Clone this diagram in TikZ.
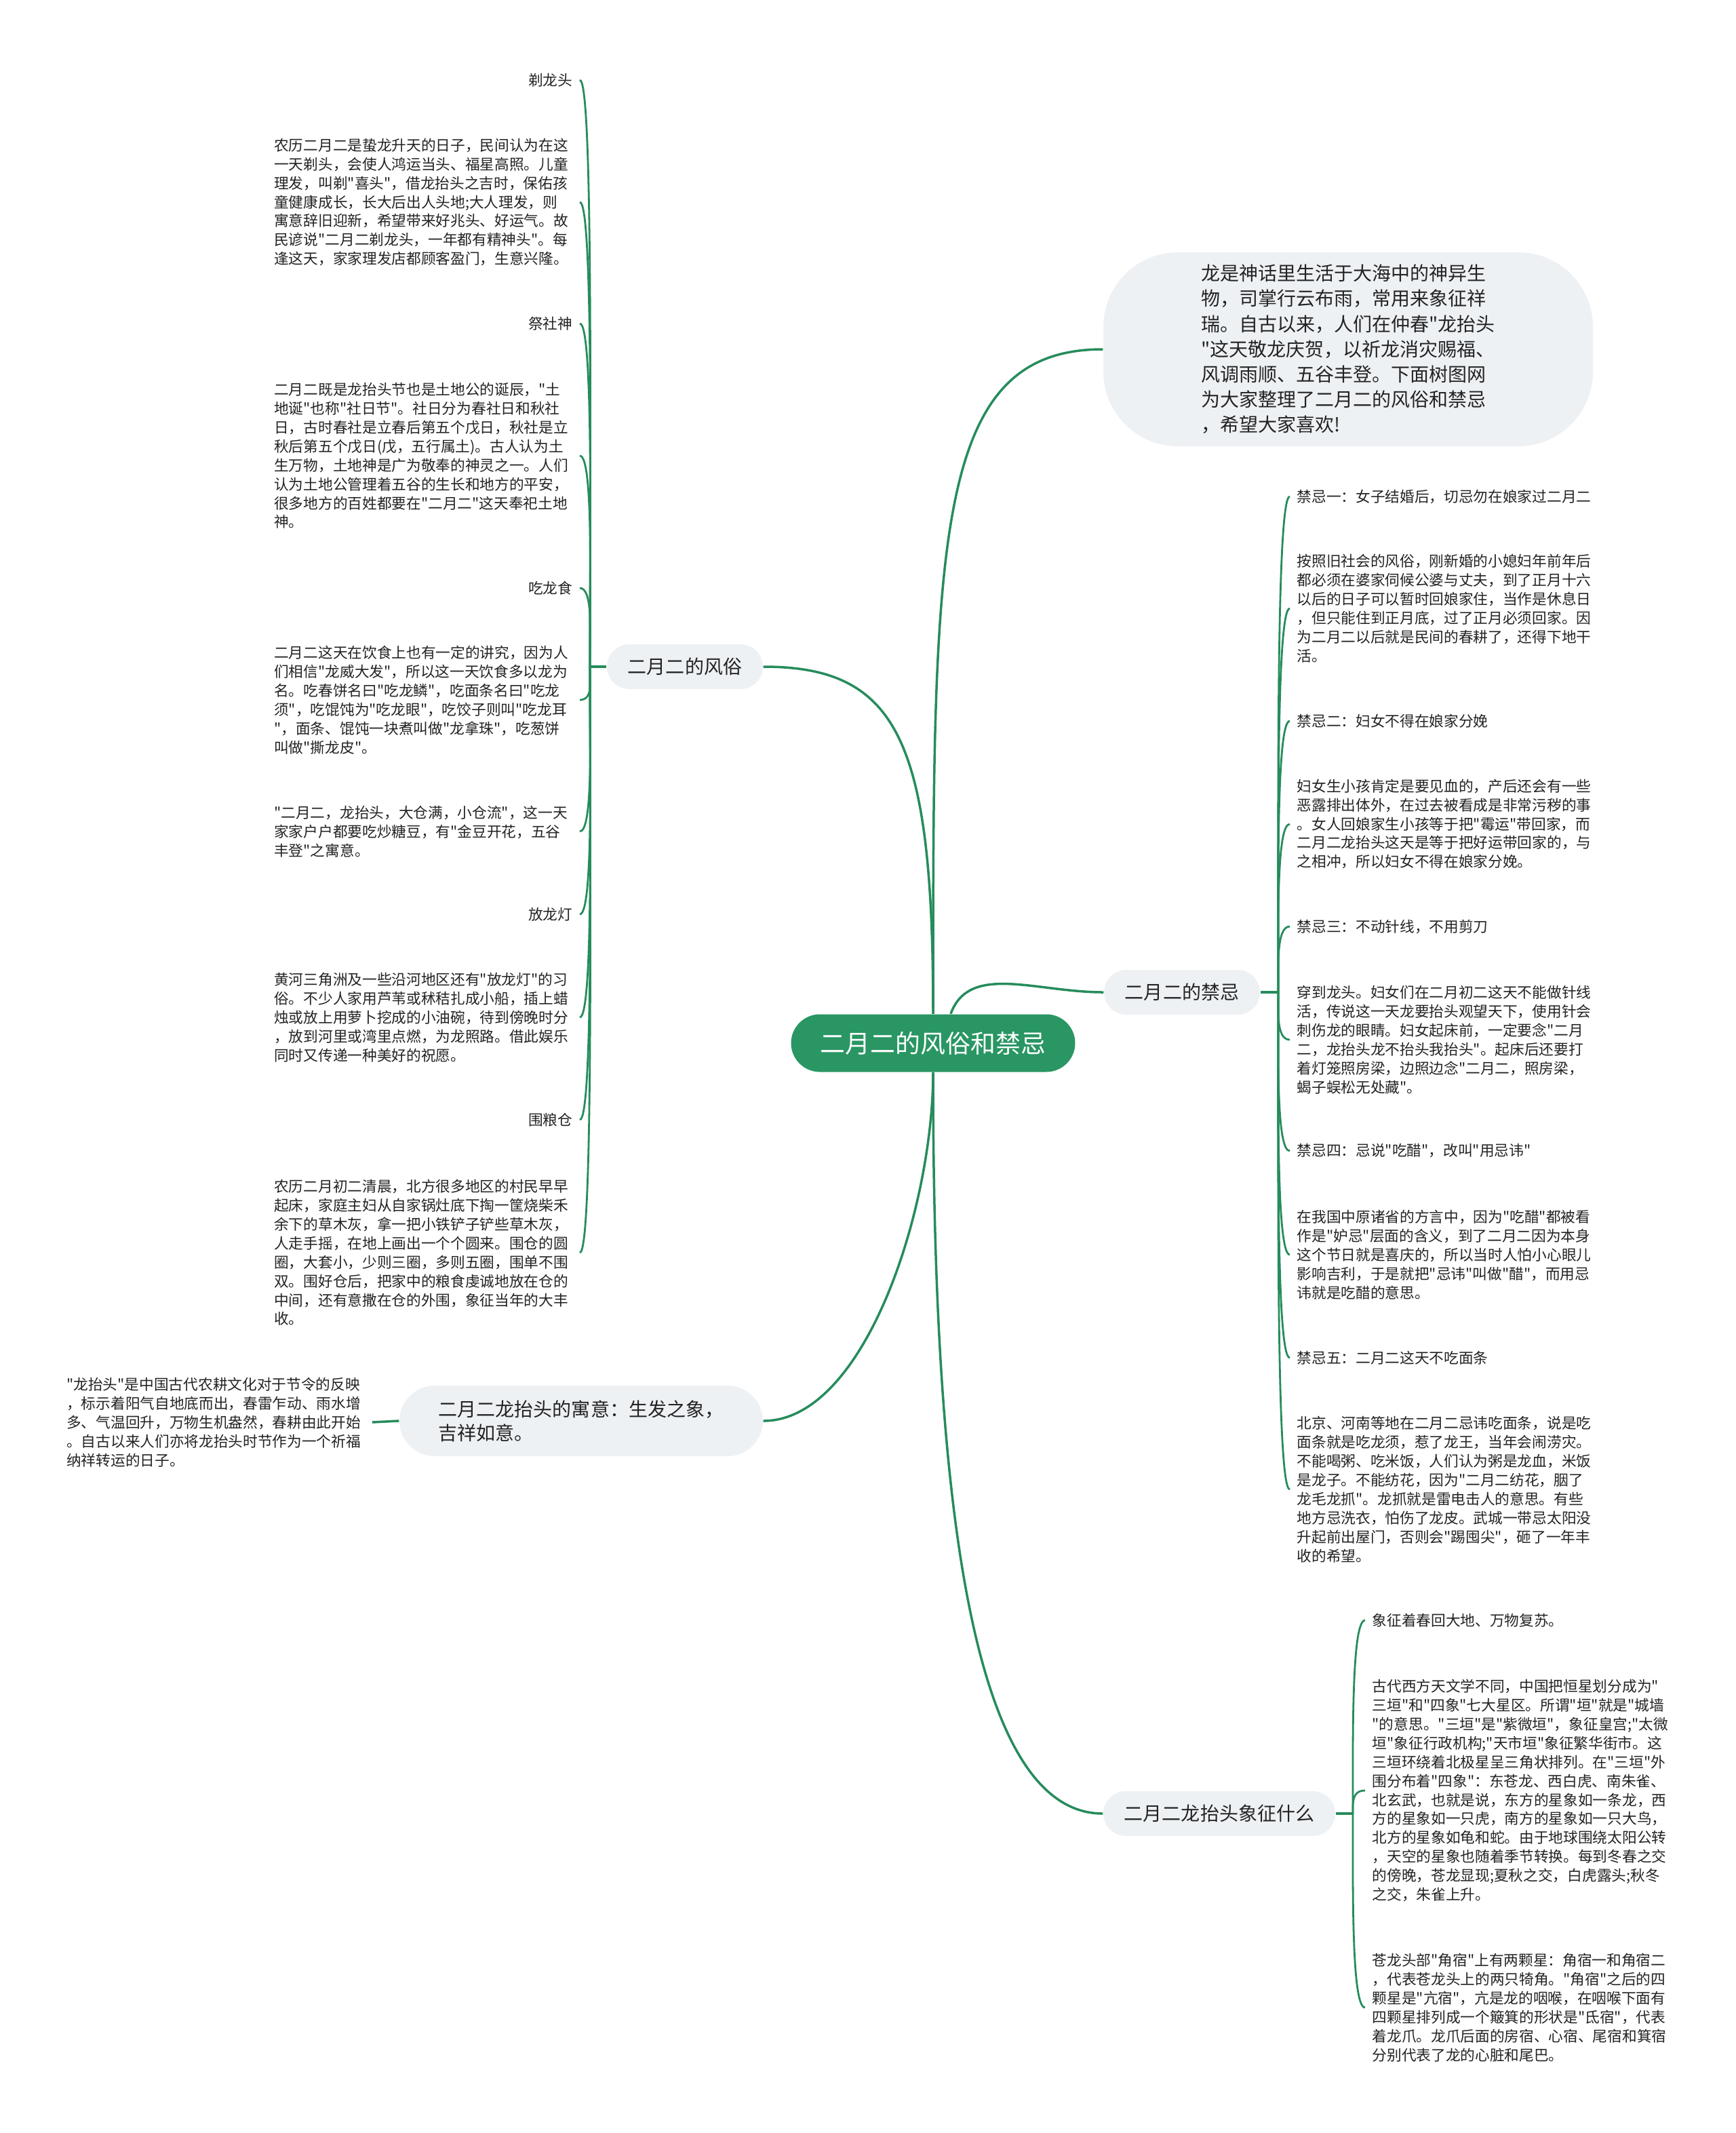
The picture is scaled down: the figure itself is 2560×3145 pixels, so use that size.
\documentclass[tikz,border=0pt]{standalone}
\usepackage{fontspec}
\newfontfamily\cjkfont{Noto Sans CJK SC}
\definecolor{mapgreen}{RGB}{41,150,99}
\definecolor{linegreen}{RGB}{38,140,92}
\definecolor{pillgray}{RGB}{238,241,244}
\definecolor{leaftext}{RGB}{35,35,35}

\tikzset{
  rootbox/.style={fill=mapgreen, text=white, rounded corners=4.25mm, minimum width=41.9mm, minimum height=8.5mm, font=\cjkfont\fontsize{10.5}{12}\selectfont},
  pill/.style={fill=pillgray, text=leaftext, rounded corners=3.3mm, minimum height=6.6mm, inner xsep=3.1mm, inner ysep=0pt, font=\cjkfont\fontsize{7.97}{9.96}\selectfont},
  leaf/.style={inner sep=1mm, text=leaftext, font=\cjkfont\fontsize{6.17}{7.94}\selectfont},
  para/.style={leaf, text width=44mm, align=left},
  mainline/.style={draw=linegreen, line width=0.35mm},
  twig/.style={draw=linegreen, line width=0.28mm},
}

\begin{document}
\begin{tikzpicture}[x=0.1mm,y=-0.1mm]

\useasboundingbox (0,0) rectangle (2560,3145);
\fill[white] (0,0) rectangle (2560,3145);

% centre and main branches
\node[rootbox] (root) at (1376,1538) {二月二的风俗和禁忌};

\node[fill=pillgray, text=leaftext, rounded corners=11mm, minimum width=72.2mm, minimum height=28.6mm, align=left, font=\cjkfont\fontsize{7.97}{10.58}\selectfont] (intro) at (1988,515) {龙是神话里生活于大海中的神异生\\
物，司掌行云布雨，常用来象征祥\\
瑞。自古以来，人们在仲春"龙抬头\\
"这天敬龙庆贺，以祈龙消灾赐福、\\
风调雨顺、五谷丰登。下面树图网\\
为大家整理了二月二的风俗和禁忌\\
，希望大家喜欢!};

\node[pill] (fengsu) at (1010,983) {二月二的风俗};
\node[pill] (jinji) at (1743,1463) {二月二的禁忌};
\node[pill] (xiangzheng) at (1798,2674) {二月二龙抬头象征什么};
\node[pill, align=left, minimum width=53.6mm, minimum height=10.4mm, rounded corners=5.2mm] (yuyi) at (857,2095) {二月二龙抬头的寓意：生发之象，\\吉祥如意。};

\coordinate (fshub) at (870,983);
\coordinate (jjhub) at (1885,1463);
\coordinate (xzhub) at (1995,2674);

% left: customs
\node[leaf, anchor=east] (fs1) at (855,118) {剃龙头};
\node[para, anchor=east] (fs2) at (855,298) {农历二月二是蛰龙升天的日子，民间认为在这\\
一天剃头，会使人鸿运当头、福星高照。儿童\\
理发，叫剃"喜头"，借龙抬头之吉时，保佑孩\\
童健康成长，长大后出人头地;大人理发，则\\
寓意辞旧迎新，希望带来好兆头、好运气。故\\
民谚说"二月二剃龙头，一年都有精神头"。每\\
逢这天，家家理发店都顾客盈门，生意兴隆。};
\node[leaf, anchor=east] (fs3) at (855,477) {祭社神};
\node[para, anchor=east] (fs4) at (855,672) {二月二既是龙抬头节也是土地公的诞辰，"土\\
地诞"也称"社日节"。社日分为春社日和秋社\\
日，古时春社是立春后第五个戊日，秋社是立\\
秋后第五个戊日(戊，五行属土)。古人认为土\\
生万物，土地神是广为敬奉的神灵之一。人们\\
认为土地公管理着五谷的生长和地方的平安，\\
很多地方的百姓都要在"二月二"这天奉祀土地\\
神。};
\node[leaf, anchor=east] (fs5) at (855,867) {吃龙食};
\node[para, anchor=east] (fs6) at (855,1032) {二月二这天在饮食上也有一定的讲究，因为人\\
们相信"龙威大发"，所以这一天饮食多以龙为\\
名。吃春饼名曰"吃龙鳞"，吃面条名曰"吃龙\\
须"，吃馄饨为"吃龙眼"，吃饺子则叫"吃龙耳\\
"，面条、馄饨一块煮叫做"龙拿珠"，吃葱饼\\
叫做"撕龙皮"。};
\node[para, anchor=east] (fs7) at (855,1226) {"二月二，龙抬头，大仓满，小仓流"，这一天\\
家家户户都要吃炒糖豆，有"金豆开花，五谷\\
丰登"之寓意。};
\node[leaf, anchor=east] (fs8) at (855,1348) {放龙灯};
\node[para, anchor=east] (fs9) at (855,1500) {黄河三角洲及一些沿河地区还有"放龙灯"的习\\
俗。不少人家用芦苇或秫秸扎成小船，插上蜡\\
烛或放上用萝卜挖成的小油碗，待到傍晚时分\\
，放到河里或湾里点燃，为龙照路。借此娱乐\\
同时又传递一种美好的祝愿。};
\node[leaf, anchor=east] (fs10) at (855,1651) {围粮仓};
\node[para, anchor=east] (fs11) at (855,1847) {农历二月初二清晨，北方很多地区的村民早早\\
起床，家庭主妇从自家锅灶底下掏一筐烧柴禾\\
余下的草木灰，拿一把小铁铲子铲些草木灰，\\
人走手摇，在地上画出一个个圆来。围仓的圆\\
圈，大套小，少则三圈，多则五圈，围单不围\\
双。围好仓后，把家中的粮食虔诚地放在仓的\\
中间，还有意撒在仓的外围，象征当年的大丰\\
收。};

\node[para, anchor=east] (yy1) at (549,2097) {"龙抬头"是中国古代农耕文化对于节令的反映\\
，标示着阳气自地底而出，春雷乍动、雨水增\\
多、气温回升，万物生机盎然，春耕由此开始\\
。自古以来人们亦将龙抬头时节作为一个祈福\\
纳祥转运的日子。};

% right: taboos
\node[leaf, anchor=west] (jj1) at (1902,732) {禁忌一：女子结婚后，切忌勿在娘家过二月二};
\node[para, anchor=west] (jj2) at (1902,897) {按照旧社会的风俗，刚新婚的小媳妇年前年后\\
都必须在婆家伺候公婆与丈夫，到了正月十六\\
以后的日子可以暂时回娘家住，当作是休息日\\
，但只能住到正月底，过了正月必须回家。因\\
为二月二以后就是民间的春耕了，还得下地干\\
活。};
\node[leaf, anchor=west] (jj3) at (1902,1063) {禁忌二：妇女不得在娘家分娩};
\node[para, anchor=west] (jj4) at (1902,1215) {妇女生小孩肯定是要见血的，产后还会有一些\\
恶露排出体外，在过去被看成是非常污秽的事\\
。女人回娘家生小孩等于把"霉运"带回家，而\\
二月二龙抬头这天是等于把好运带回家的，与\\
之相冲，所以妇女不得在娘家分娩。};
\node[leaf, anchor=west] (jj5) at (1902,1366) {禁忌三：不动针线，不用剪刀};
\node[para, anchor=west] (jj6) at (1902,1533) {穿到龙头。妇女们在二月初二这天不能做针线\\
活，传说这一天龙要抬头观望天下，使用针会\\
刺伤龙的眼睛。妇女起床前，一定要念"二月\\
二，龙抬头龙不抬头我抬头"。起床后还要打\\
着灯笼照房梁，边照边念"二月二，照房梁，\\
蝎子蜈松无处藏"。};
\node[leaf, anchor=west] (jj7) at (1902,1697) {禁忌四：忌说"吃醋"，改叫"用忌讳"};
\node[para, anchor=west] (jj8) at (1902,1850) {在我国中原诸省的方言中，因为"吃醋"都被看\\
作是"妒忌"层面的含义，到了二月二因为本身\\
这个节日就是喜庆的，所以当时人怕小心眼儿\\
影响吉利，于是就把"忌讳"叫做"醋"，而用忌\\
讳就是吃醋的意思。};
\node[leaf, anchor=west] (jj9) at (1902,2002) {禁忌五：二月二这天不吃面条};
\node[para, anchor=west] (jj10) at (1902,2196) {北京、河南等地在二月二忌讳吃面条，说是吃\\
面条就是吃龙须，惹了龙王，当年会闹涝灾。\\
不能喝粥、吃米饭，人们认为粥是龙血，米饭\\
是龙子。不能纺花，因为"二月二纺花，胭了\\
龙毛龙抓"。龙抓就是雷电击人的意思。有些\\
地方忌洗衣，怕伤了龙皮。武城一带忌太阳没\\
升起前出屋门，否则会"踢囤尖"，砸了一年丰\\
收的希望。};

% right: meaning
\node[leaf, anchor=west] (xz1) at (2013,2389) {象征着春回大地、万物复苏。};
\node[para, anchor=west] (xz2) at (2013,2640) {古代西方天文学不同，中国把恒星划分成为"\\
三垣"和"四象"七大星区。所谓"垣"就是"城墙\\
"的意思。"三垣"是"紫微垣"，象征皇宫;"太微\\
垣"象征行政机构;"天市垣"象征繁华街市。这\\
三垣环绕着北极星呈三角状排列。在"三垣"外\\
围分布着"四象"：东苍龙、西白虎、南朱雀、\\
北玄武，也就是说，东方的星象如一条龙，西\\
方的星象如一只虎，南方的星象如一只大鸟，\\
北方的星象如龟和蛇。由于地球围绕太阳公转\\
，天空的星象也随着季节转换。每到冬春之交\\
的傍晚，苍龙显现;夏秋之交，白虎露头;秋冬\\
之交，朱雀上升。};
\node[para, anchor=west] (xz3) at (2013,2960) {苍龙头部"角宿"上有两颗星：角宿一和角宿二\\
，代表苍龙头上的两只犄角。"角宿"之后的四\\
颗星是"亢宿"，亢是龙的咽喉，在咽喉下面有\\
四颗星排列成一个簸箕的形状是"氐宿"，代表\\
着龙爪。龙爪后面的房宿、心宿、尾宿和箕宿\\
分别代表了龙的心脏和尾巴。};

% main connectors
\draw[mainline] (root.north) to[out=90,in=0,out distance=40mm,in distance=20mm] (fengsu.east);
\draw[mainline] (root.north) to[out=90,in=180,out distance=70mm,in distance=25mm] (intro.west);
\draw[mainline] ([xshift=2.6mm]root.north) to[out=70,in=180,out distance=8mm,in distance=10mm] (jinji.west);
\draw[mainline] (root.south) to[out=270,in=0,out distance=20mm,in distance=15mm] (yuyi.east);
\draw[mainline] (root.south) to[out=270,in=180,out distance=60mm,in distance=20mm] (xiangzheng.west);

\draw[mainline] (fengsu.west) -- (fshub);
\draw[mainline] (jinji.east) -- (jjhub);
\draw[mainline] (xiangzheng.east) -- (xzhub);
\draw[mainline] (yuyi.west) -- (yy1.east);

% twigs to the leaves
\draw[twig] (fshub) to[out=90,in=0,in distance=2mm] (fs1.east);
\draw[twig] (fshub) to[out=90,in=0,in distance=2mm] (fs2.east);
\draw[twig] (fshub) to[out=90,in=0,in distance=2mm] (fs3.east);
\draw[twig] (fshub) to[out=90,in=0,in distance=2mm] (fs4.east);
\draw[twig] (fshub) to[out=90,in=0,in distance=2mm] (fs5.east);
\draw[twig] (fshub) to[out=270,in=0,in distance=2mm] (fs6.east);
\draw[twig] (fshub) to[out=270,in=0,in distance=2mm] (fs7.east);
\draw[twig] (fshub) to[out=270,in=0,in distance=2mm] (fs8.east);
\draw[twig] (fshub) to[out=270,in=0,in distance=2mm] (fs9.east);
\draw[twig] (fshub) to[out=270,in=0,in distance=2mm] (fs10.east);
\draw[twig] (fshub) to[out=270,in=0,in distance=2mm] (fs11.east);

\draw[twig] (jjhub) to[out=90,in=180,in distance=2mm] (jj1.west);
\draw[twig] (jjhub) to[out=90,in=180,in distance=2mm] (jj2.west);
\draw[twig] (jjhub) to[out=90,in=180,in distance=2mm] (jj3.west);
\draw[twig] (jjhub) to[out=90,in=180,in distance=2mm] (jj4.west);
\draw[twig] (jjhub) to[out=90,in=180,in distance=2mm] (jj5.west);
\draw[twig] (jjhub) to[out=270,in=180,in distance=2mm] (jj6.west);
\draw[twig] (jjhub) to[out=270,in=180,in distance=2mm] (jj7.west);
\draw[twig] (jjhub) to[out=270,in=180,in distance=2mm] (jj8.west);
\draw[twig] (jjhub) to[out=270,in=180,in distance=2mm] (jj9.west);
\draw[twig] (jjhub) to[out=270,in=180,in distance=2mm] (jj10.west);

\draw[twig] (xzhub) to[out=90,in=180,in distance=2mm] (xz1.west);
\draw[twig] (xzhub) to[out=90,in=180,in distance=2mm] (xz2.west);
\draw[twig] (xzhub) to[out=270,in=180,in distance=2mm] (xz3.west);

\end{tikzpicture}
\end{document}
